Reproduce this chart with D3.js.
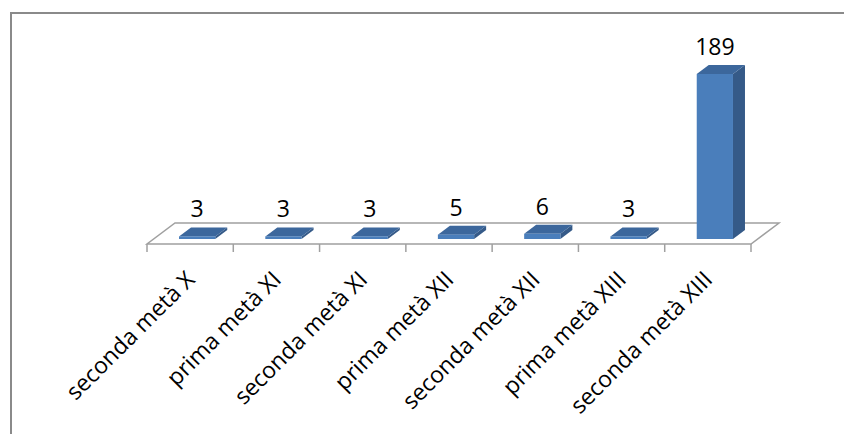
<!DOCTYPE html>
<html>
<head>
<meta charset="utf-8">
<script src="https://cdn.jsdelivr.net/npm/d3@7/dist/d3.min.js"></script>
<style>
  html, body { margin: 0; padding: 0; background: #fff; }
  svg { display: block; }
  text { font-family: "Open Sans", "Noto Sans", sans-serif; fill: #000; }
</style>
</head>
<body>
<svg id="chart" width="844" height="434"></svg>
<script>
// Categories (half-centuries) and counts per category
const categories = [
  "seconda metà X",
  "prima metà XI",
  "seconda metà XI",
  "prima metà XII",
  "seconda metà XII",
  "prima metà XIII",
  "seconda metà XIII"
];
const values = [3, 3, 3, 5, 6, 3, 189];

const svg = d3.select("#chart");

// Outer chart border (runs off the right and bottom edges)
svg.append("rect")
  .attr("x", 11).attr("y", 13)
  .attr("width", 900).attr("height", 500)
  .attr("fill", "none")
  .attr("stroke", "#8a8a8a")
  .attr("stroke-width", 2);

// Floor geometry and oblique depth
const floorLeft = 147, floorRight = 751, floorFront = 244;
const depth = { dx: 28, dy: -21 };        // full floor depth
const barFront = { dx: 7, dy: -5 };       // depth at which bar front face sits
const barDepth = { dx: 12, dy: -9 };      // thickness of each bar

const x = d3.scaleBand()
  .domain(categories)
  .range([floorLeft, floorRight])
  .paddingInner(0.58)
  .paddingOuter(0.29);

const slot = d3.scaleBand()
  .domain(categories)
  .range([floorLeft, floorRight])
  .padding(0);

const baseY = floorFront + barFront.dy;
const y = d3.scaleLinear()
  .domain([0, 189])
  .range([baseY, 74]);

// Floor plane
const floorPts = [
  [floorLeft, floorFront],
  [floorRight, floorFront],
  [floorRight + depth.dx, floorFront + depth.dy],
  [floorLeft + depth.dx, floorFront + depth.dy]
];
svg.append("polygon")
  .attr("points", floorPts.map(p => p.join(",")).join(" "))
  .attr("fill", "#fff")
  .attr("stroke", "#a0a0a0")
  .attr("stroke-width", 1.5);

// Category tick marks along the front edge
const tickXs = categories.map(c => slot(c)).concat([floorRight]);
svg.append("g").selectAll("line")
  .data(tickXs)
  .join("line")
  .attr("x1", d => d).attr("x2", d => d)
  .attr("y1", floorFront).attr("y2", floorFront + 8)
  .attr("stroke", "#a0a0a0")
  .attr("stroke-width", 1.5);

// 3D bars: side, top, front
const data = categories.map((c, i) => ({ c, v: values[i] }));
const bars = svg.append("g").selectAll("g")
  .data(data)
  .join("g");

const fx0 = d => x(d.c) + barFront.dx;
const fx1 = d => x(d.c) + x.bandwidth() + barFront.dx;

bars.append("polygon")
  .attr("points", d => {
    const x1 = fx1(d), yt = y(d.v), yb = baseY;
    return [[x1, yb], [x1 + barDepth.dx, yb + barDepth.dy],
            [x1 + barDepth.dx, yt + barDepth.dy], [x1, yt]]
      .map(p => p.join(",")).join(" ");
  })
  .attr("fill", "#355a88");

bars.append("polygon")
  .attr("points", d => {
    const x0 = fx0(d), x1 = fx1(d), yt = y(d.v);
    return [[x0, yt], [x0 + barDepth.dx, yt + barDepth.dy],
            [x1 + barDepth.dx, yt + barDepth.dy], [x1, yt]]
      .map(p => p.join(",")).join(" ");
  })
  .attr("fill", "#3c679c");

bars.append("rect")
  .attr("x", fx0)
  .attr("y", d => y(d.v))
  .attr("width", x.bandwidth())
  .attr("height", d => baseY - y(d.v))
  .attr("fill", "#4a7ebb");

// Value labels
bars.append("text")
  .attr("x", d => (fx0(d) + fx1(d)) / 2)
  .attr("y", d => y(d.v) - 19)
  .attr("text-anchor", "middle")
  .attr("font-size", 23)
  .text(d => d.v);

// Rotated category labels
svg.append("g").selectAll("text")
  .data(categories)
  .join("text")
  .attr("transform", c => `translate(${slot(c) + slot.bandwidth() / 2 + 6},${281}) rotate(-45)`)
  .attr("text-anchor", "end")
  .attr("font-size", 23)
  .text(c => c);
</script>
</body>
</html>
